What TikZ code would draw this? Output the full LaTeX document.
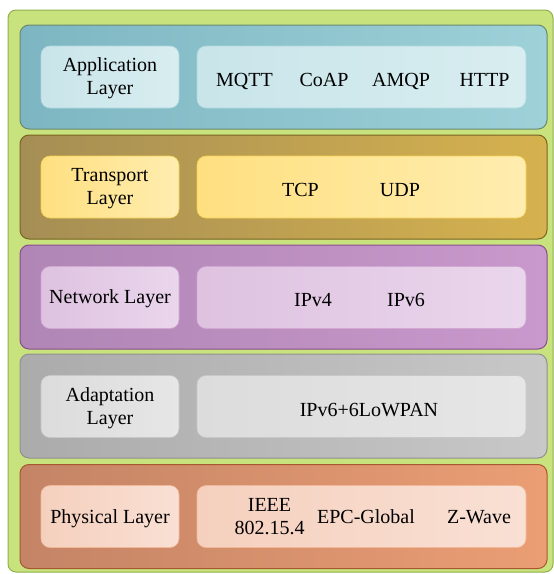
\documentclass[tikz,border=0pt]{standalone}
\usepackage{fontspec}
\setmainfont{Liberation Serif}
\newfontfamily\tnrfont{Liberation Serif}
\definecolor{outerG}{HTML}{C8E27E}
\definecolor{outerD}{HTML}{8FB04A}
\definecolor{appL}{HTML}{7DB6C2}
\definecolor{appR}{HTML}{9ED1D8}
\definecolor{appD}{HTML}{6A8A70}
\definecolor{appIL}{HTML}{C9E5EA}
\definecolor{appIR}{HTML}{D8EDF0}
\definecolor{appID}{HTML}{B0D8DE}
\definecolor{trL}{HTML}{A58E55}
\definecolor{trR}{HTML}{D6B24E}
\definecolor{trD}{HTML}{7A6422}
\definecolor{trIL}{HTML}{FFE080}
\definecolor{trIR}{HTML}{FFEDB0}
\definecolor{trID}{HTML}{F5CF50}
\definecolor{nwL}{HTML}{AF86B5}
\definecolor{nwR}{HTML}{C998CC}
\definecolor{nwD}{HTML}{8A4E8E}
\definecolor{nwIL}{HTML}{DEC2E0}
\definecolor{nwIR}{HTML}{EAD6EC}
\definecolor{nwID}{HTML}{D0A8D2}
\definecolor{adL}{HTML}{ABABAB}
\definecolor{adR}{HTML}{C8C8C8}
\definecolor{adD}{HTML}{909090}
\definecolor{adIL}{HTML}{DCDCDC}
\definecolor{adIR}{HTML}{E6E6E6}
\definecolor{adID}{HTML}{C8C8C8}
\definecolor{phL}{HTML}{C48466}
\definecolor{phR}{HTML}{EB9E74}
\definecolor{phD}{HTML}{A8582E}
\definecolor{phIL}{HTML}{F5D0BE}
\definecolor{phIR}{HTML}{F9E0D4}
\definecolor{phID}{HTML}{F0B898}
\begin{document}
\begin{tikzpicture}[x=1pt,y=-1pt,
  every node/.style={font=\tnrfont\fontsize{20}{23}\selectfont, text=black, inner sep=0pt},
  outerbox/.style={rounded corners=8pt, fill=outerG, draw=outerD, line width=1pt},
  layerbox/.style={rounded corners=9pt, minimum width=527pt, minimum height=104pt, line width=1pt, shading=axis, shading angle=90},
  labelbox/.style={rounded corners=9pt, minimum width=138pt, minimum height=62pt, line width=0.6pt, align=center, shading=axis, shading angle=90},
  itembox/.style={rounded corners=9pt, minimum width=329pt, minimum height=62pt, line width=0.6pt, shading=axis, shading angle=90},
  item/.style={anchor=base},
  item2/.style={anchor=center, align=center}
]
\useasboundingbox (0,0) rectangle (554,574);
\draw[outerbox] (8,10) rectangle (553,572);

% Application
\node[layerbox, left color=appL, right color=appR, draw=appD] (app) at (283.5,77) {};
\node[labelbox, left color=appIL, right color=appIR, draw=appID] (appLbl) at (110,77) {};
\node[item2] (appTxt) at (110,78.3) {Application\\Layer};
\node[itembox, left color=appIL, right color=appIR, draw=appID] (appBox) at (361.5,77) {};
\node[item] (mqtt) at (244.5,86) {MQTT};
\node[item] (coap) at (324,86) {CoAP};
\node[item] (amqp) at (401,86) {AMQP};
\node[item] (http) at (484.5,86) {HTTP};

% Transport
\node[layerbox, left color=trL, right color=trR, draw=trD] (tr) at (283.5,187) {};
\node[labelbox, left color=trIL, right color=trIR, draw=trID] (trLbl) at (110,187) {};
\node[item2] (trTxt) at (110,188.3) {Transport\\Layer};
\node[itembox, left color=trIL, right color=trIR, draw=trID] (trBox) at (361.5,187) {};
\node[item] (tcp) at (300.5,196) {TCP};
\node[item] (udp) at (400,196) {UDP};

% Network
\node[layerbox, left color=nwL, right color=nwR, draw=nwD] (nw) at (283.5,297) {};
\node[labelbox, left color=nwIL, right color=nwIR, draw=nwID] (nwLbl) at (110,297.5) {};
\node[item] (nwTxt) at (110,303.3) {Network Layer};
\node[itembox, left color=nwIL, right color=nwIR, draw=nwID] (nwBox) at (361.5,297.5) {};
\node[item] (ipv4) at (313,306) {IPv4};
\node[item] (ipv6) at (406,306) {IPv6};

% Adaptation
\node[layerbox, left color=adL, right color=adR, draw=adD] (ad) at (283.5,406) {};
\node[labelbox, left color=adIL, right color=adIR, draw=adID] (adLbl) at (110,406.5) {};
\node[item2] (adTxt) at (110,407.8) {Adaptation\\Layer};
\node[itembox, left color=adIL, right color=adIR, draw=adID] (adBox) at (361.5,406.5) {};
\node[item] (lowpan) at (369,416) {IPv6+6LoWPAN};

% Physical
\node[layerbox, left color=phL, right color=phR, draw=phD] (ph) at (283.5,516.5) {};
\node[labelbox, left color=phIL, right color=phIR, draw=phID] (phLbl) at (110,516.5) {};
\node[item] (phTxt) at (110,523.3) {Physical Layer};
\node[itembox, left color=phIL, right color=phIR, draw=phID] (phBox) at (361.5,516.5) {};
\node[item2] (ieee) at (269.5,516.6) {IEEE\\802.15.4};
\node[item] (epc) at (366,523.5) {EPC-Global};
\node[item] (zwave) at (479,523.5) {Z-Wave};
\end{tikzpicture}
\end{document}
